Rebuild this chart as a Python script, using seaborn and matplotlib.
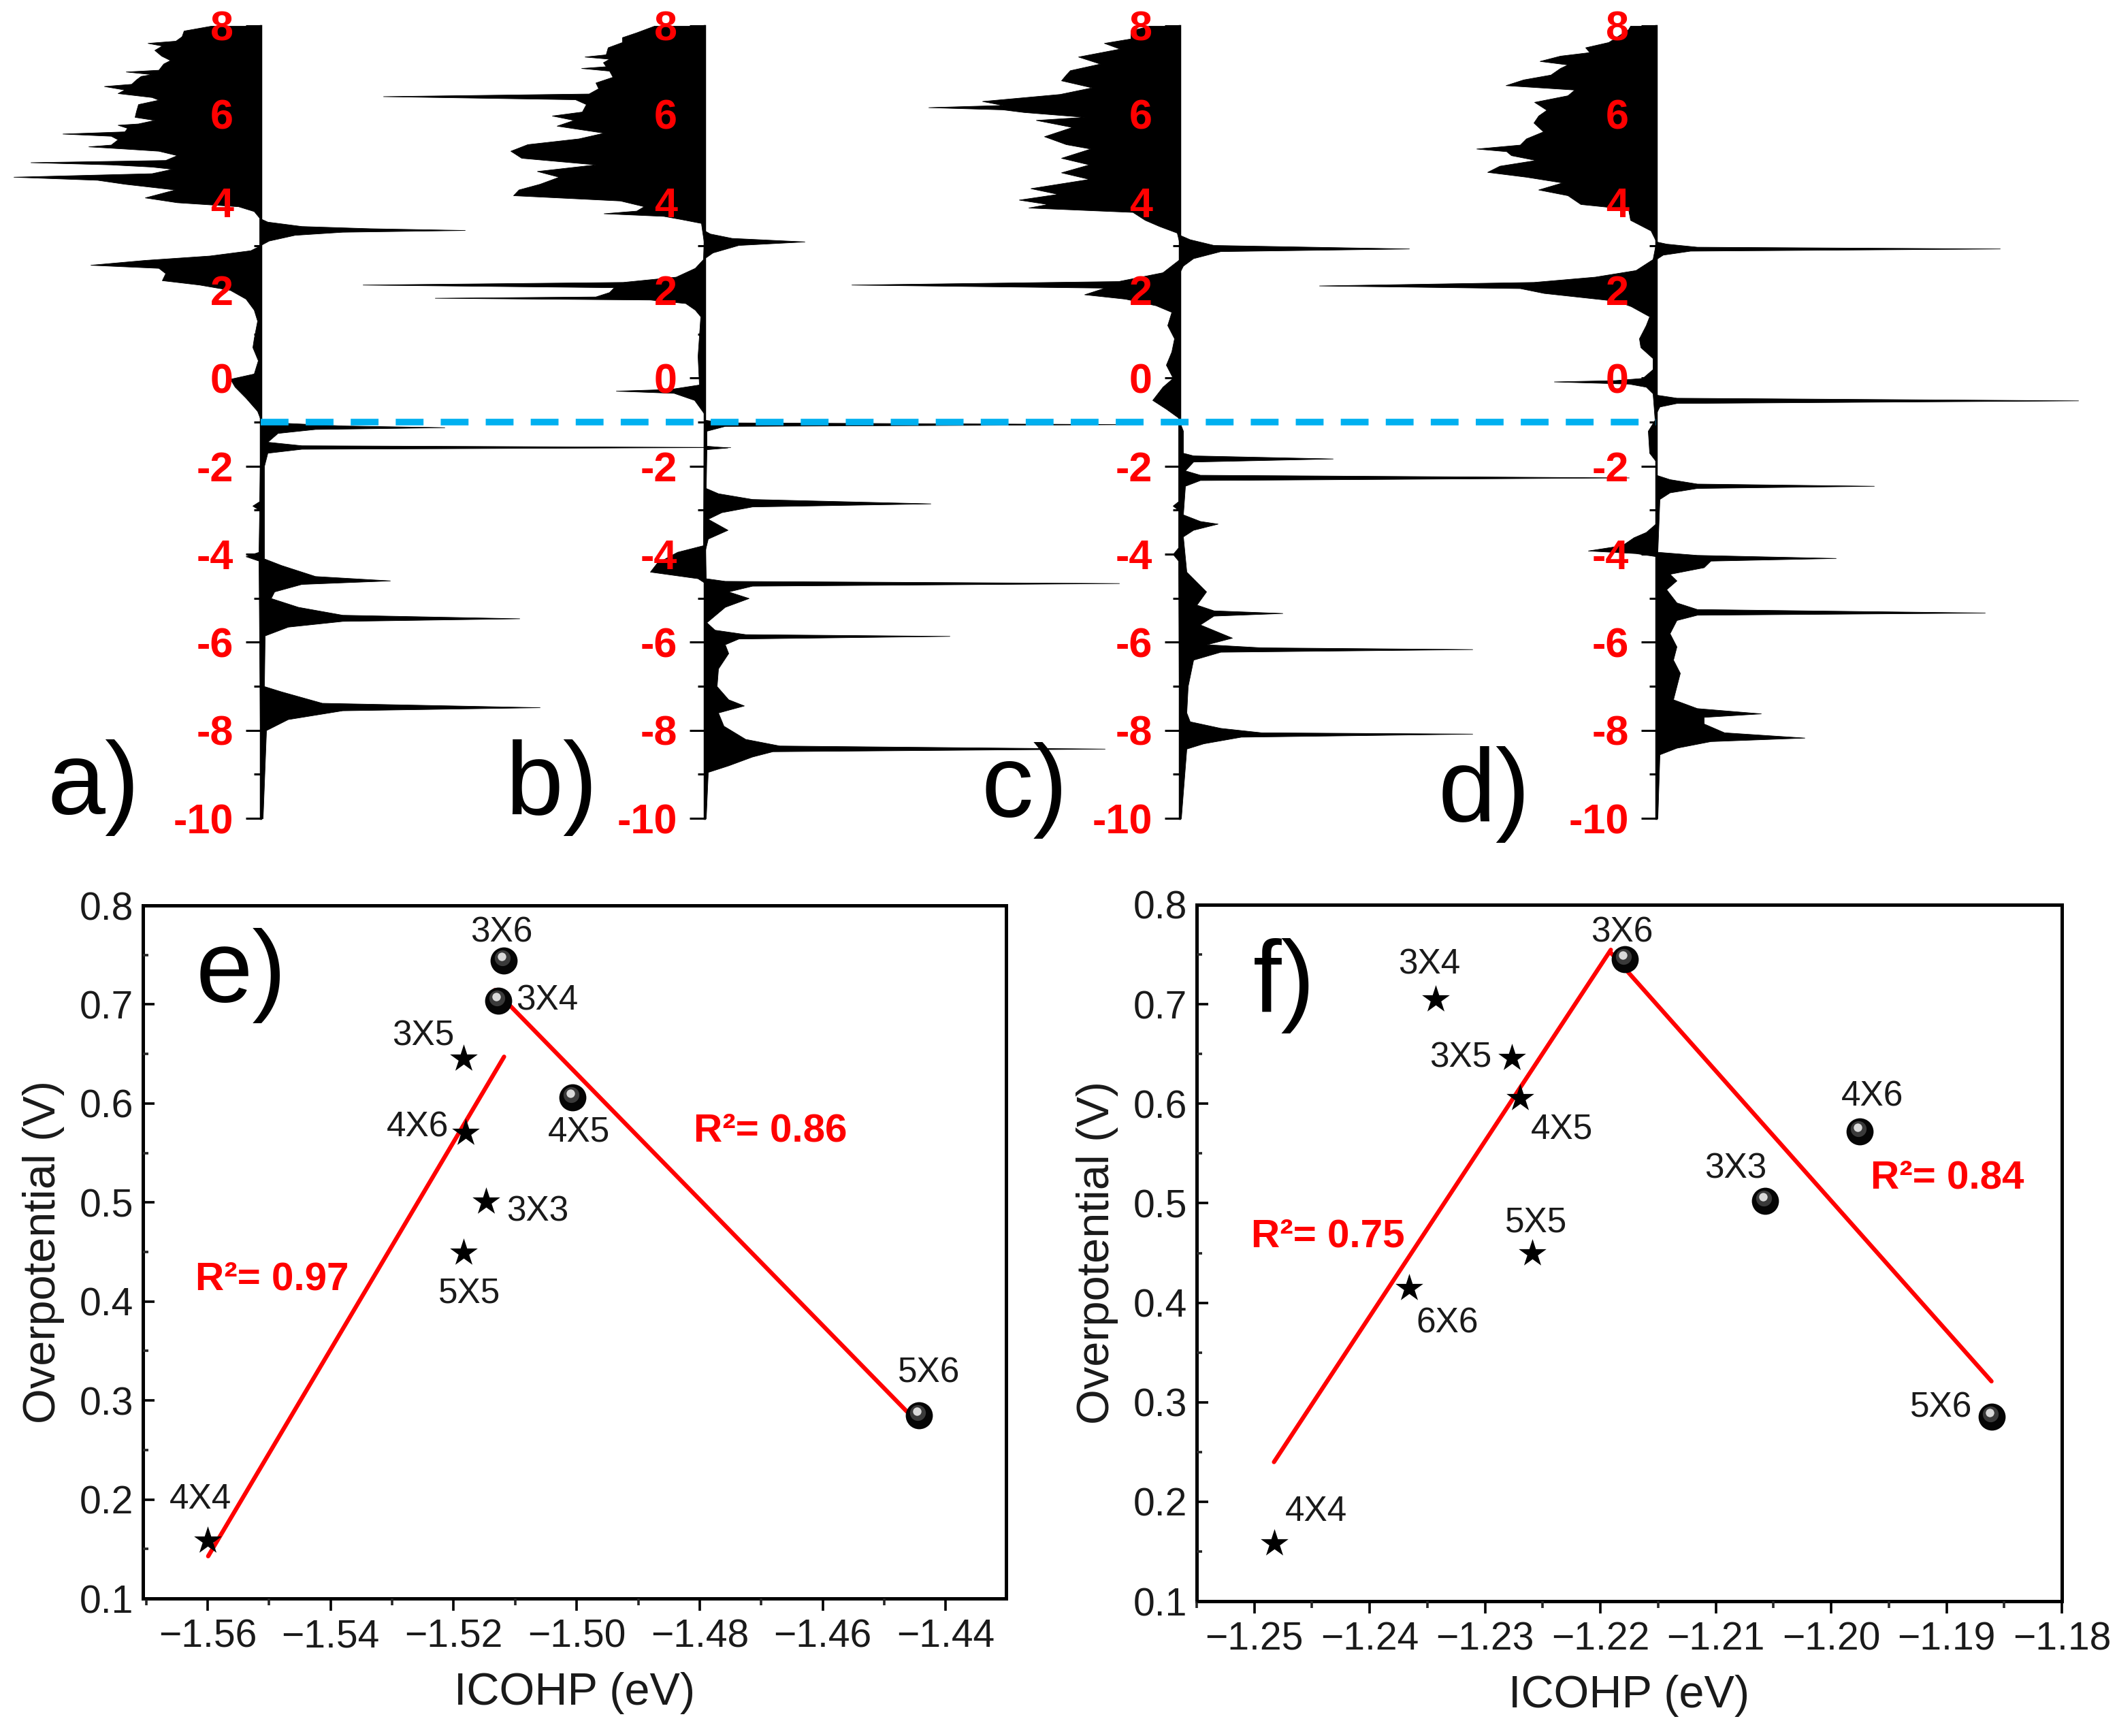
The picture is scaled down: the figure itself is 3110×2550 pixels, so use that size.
import numpy as np
import matplotlib
matplotlib.use("Agg")
import matplotlib.pyplot as plt
import matplotlib.transforms as mtransforms
from matplotlib.ticker import MultipleLocator, FuncFormatter
import seaborn as sns

# ------------------------------------------------------------------
# DOS data (energy in eV, DOS in arbitrary units), panels a-d
# each list holds (energy, dos) pairs
# ------------------------------------------------------------------
A_LEFT = [(8.00,0.73),(7.89,1.13),(7.76,1.16),(7.66,1.25),(7.61,1.66),(7.55,1.45),(7.45,1.56),(7.32,1.46),
          (7.22,1.33),(7.14,1.43),(7.00,1.50),(6.96,1.98),(6.90,1.60),(6.86,1.76),(6.78,1.83),(6.68,1.90),
          (6.63,2.30),(6.55,2.00),(6.47,2.10),(6.38,1.60),(6.32,1.50),(6.22,1.80),(6.06,1.83),(5.93,1.85),
          (5.86,1.56),(5.78,1.80),(5.75,2.10),(5.68,1.96),(5.60,2.00),(5.55,2.91),(5.50,2.20),(5.42,2.10),
          (5.30,2.20),(5.26,2.53),(5.21,2.00),(5.16,1.50),(5.06,1.23),(4.95,1.40),(4.90,3.38),(4.85,2.20),
          (4.80,1.60),(4.75,1.30),(4.65,1.60),(4.57,3.63),(4.50,2.40),(4.41,2.00),(4.28,1.26),(4.10,1.70),
          (3.99,1.23),(3.90,0.33),(3.79,0.10),(3.64,0.02),(3.00,0.02),(2.90,0.15),(2.78,0.75),(2.68,1.70),
          (2.57,2.50),(2.50,1.50),(2.38,1.40),(2.22,1.45),(2.12,0.90),(2.00,0.45),(1.80,0.22),(1.55,0.10),
          (1.30,0.05),(0.90,0.10),(0.70,0.12),(0.40,0.04),(0.10,0.10),(-0.02,0.45),(-0.20,0.38),(-0.45,0.22),
          (-0.75,0.05),(-0.95,0.00),(-2.80,0.02),(-2.90,0.12),(-3.00,0.02),(-3.95,0.03),(-4.05,0.22),
          (-4.15,0.03),(-10.0,0.0)]
A_RIGHT = [(8.0,0.0),(3.62,0.0),(3.55,0.10),(3.45,0.60),(3.40,1.60),(3.36,3.00),(3.32,1.20),(3.25,0.50),
           (3.12,0.12),(3.02,0.0),(-0.96,0.0),(-1.02,0.35),(-1.08,1.2),(-1.12,2.70),(-1.16,0.8),(-1.25,0.25),
           (-1.45,0.10),(-1.53,0.60),(-1.57,6.90),(-1.61,0.60),(-1.70,0.10),(-2.00,0.05),(-4.10,0.05),
           (-4.25,0.30),(-4.50,0.80),(-4.60,1.90),(-4.68,0.60),(-4.85,0.20),(-5.00,0.15),(-5.20,0.55),
           (-5.38,1.20),(-5.46,3.80),(-5.52,1.20),(-5.65,0.40),(-5.85,0.06),(-7.00,0.05),(-7.12,0.30),
           (-7.38,0.90),(-7.48,4.10),(-7.55,1.20),(-7.75,0.40),(-8.00,0.08),(-10.0,0.03)]

B_LEFT = [(8.00,0.74),(7.85,1.00),(7.74,1.21),(7.63,1.21),(7.51,1.42),(7.35,1.45),(7.30,1.76),(7.25,1.40),
          (7.17,1.49),(7.08,1.45),(7.04,1.81),(6.98,1.40),(6.84,1.35),(6.71,1.60),(6.58,1.56),(6.46,1.70),
          (6.40,4.72),(6.33,1.90),(6.22,1.74),(6.05,1.80),(5.96,2.24),(5.86,1.92),(5.73,2.17),(5.57,1.48),
          (5.44,1.85),(5.31,2.60),(5.16,2.85),(5.00,2.69),(4.85,1.60),(4.70,2.46),(4.57,2.14),(4.41,2.42),
          (4.28,2.73),(4.15,2.81),(4.03,1.24),(3.90,0.89),(3.80,1.00),(3.74,1.48),(3.68,0.60),(3.61,0.35),
          (3.52,0.05),(3.30,0.03),(3.10,0.01),(2.70,0.02),(2.50,0.14),(2.30,0.42),(2.18,1.20),(2.12,5.02),
          (2.06,1.33),(1.95,1.40),(1.85,1.60),(1.82,3.96),(1.78,0.80),(1.70,0.28),(1.55,0.14),(1.40,0.06),
          (0.50,0.10),(-0.15,0.08),(-0.25,0.50),(-0.29,1.30),(-0.34,0.45),(-0.50,0.15),(-0.80,0.01),
          (-3.80,0.02),(-3.95,0.40),(-4.20,0.70),(-4.40,0.80),(-4.55,0.10),(-4.65,0.0),(-10.0,0.0)]
B_RIGHT = [(8.0,0.0),(3.35,0.0),(3.28,0.08),(3.18,0.40),(3.10,1.47),(3.02,0.50),(2.85,0.12),(2.72,0.0),
           (-0.95,0.0),(-1.01,0.30),(-1.05,6.40),(-1.09,0.30),(-1.20,0.03),(-1.54,0.03),(-1.58,0.34),
           (-1.62,0.03),(-2.50,0.02),(-2.62,0.20),(-2.75,0.70),(-2.85,3.32),(-2.92,0.70),(-3.05,0.25),
           (-3.20,0.05),(-3.45,0.34),(-3.65,0.05),(-3.90,0.01),(-4.55,0.02),(-4.61,0.30),(-4.66,6.09),
           (-4.72,0.70),(-4.85,0.35),(-5.00,0.65),(-5.20,0.30),(-5.55,0.03),(-5.72,0.15),(-5.82,0.60),
           (-5.86,3.60),(-5.92,0.50),(-6.05,0.30),(-6.25,0.35),(-6.60,0.20),(-7.00,0.18),(-7.30,0.35),
           (-7.44,0.58),(-7.60,0.20),(-7.90,0.28),(-8.20,0.60),(-8.35,1.10),(-8.42,5.88),(-8.48,1.00),
           (-8.60,0.70),(-8.80,0.35),(-8.95,0.05),(-10.0,0.02)]

C_LEFT = [(8.00,0.45),(7.89,0.72),(7.71,0.72),(7.61,1.11),(7.48,0.88),(7.30,1.49),(7.14,1.17),(6.99,1.61),
          (6.89,1.67),(6.76,1.74),(6.60,1.29),(6.45,1.76),(6.29,2.90),(6.20,2.60),(6.15,3.69),(6.10,2.60),
          (6.04,2.29),(5.93,1.40),(5.86,2.11),(5.70,1.58),(5.49,1.99),(5.31,1.67),(5.21,1.31),(5.00,1.74),
          (4.85,1.33),(4.67,1.74),(4.52,1.33),(4.31,2.19),(4.18,1.79),(4.05,2.36),(3.95,1.94),(3.87,2.22),
          (3.77,0.69),(3.59,0.51),(3.45,0.30),(3.30,0.04),(3.05,0.0),(2.70,0.0),(2.40,0.25),(2.20,0.90),
          (2.12,4.82),(2.05,1.10),(1.90,1.40),(1.80,0.80),(1.65,0.35),(1.50,0.12),(1.20,0.18),(0.90,0.08),
          (0.60,0.12),(0.30,0.20),(0.00,0.10),(-0.20,0.25),(-0.50,0.40),(-0.70,0.20),(-0.90,0.02),
          (-2.80,0.02),(-2.90,0.10),(-3.00,0.02),(-3.85,0.02),(-4.00,0.10),(-4.15,0.02),(-10.0,0.0)]
C_RIGHT = [(8.0,0.0),(3.25,0.0),(3.15,0.15),(3.02,0.50),(2.94,3.37),(2.88,0.60),(2.72,0.20),(2.55,0.05),
           (2.40,0.0),(-1.00,0.0),(-1.20,0.05),(-1.70,0.05),(-1.76,0.20),(-1.83,2.25),(-1.90,0.20),
           (-2.10,0.08),(-2.20,0.30),(-2.26,6.60),(-2.32,0.30),(-2.45,0.08),(-3.10,0.05),(-3.25,0.30),
           (-3.31,0.56),(-3.45,0.20),(-3.60,0.05),(-4.40,0.10),(-4.85,0.39),(-5.15,0.25),(-5.28,0.50),
           (-5.34,1.51),(-5.40,0.50),(-5.60,0.30),(-5.90,0.77),(-6.05,0.40),(-6.12,1.20),(-6.16,4.30),
           (-6.22,0.60),(-6.40,0.20),(-7.00,0.12),(-7.60,0.10),(-7.80,0.15),(-7.95,0.60),(-8.05,1.20),
           (-8.08,4.30),(-8.15,0.90),(-8.30,0.35),(-8.42,0.10),(-10.0,0.02)]

D_LEFT = [(8.00,0.38),(7.92,0.41),(7.63,0.70),(7.51,1.04),(7.40,0.98),(7.32,1.41),(7.20,1.71),(7.12,1.30),
          (7.04,1.41),(6.89,1.55),(6.78,1.95),(6.65,2.21),(6.55,1.20),(6.42,1.30),(6.27,1.79),(6.09,1.61),
          (5.96,1.73),(5.80,1.80),(5.60,1.66),(5.44,1.91),(5.30,2.00),(5.21,2.64),(5.15,2.20),(5.06,2.13),
          (4.95,1.77),(4.82,2.30),(4.68,2.48),(4.57,1.91),(4.44,1.38),(4.28,1.73),(4.15,1.30),(3.95,1.11),
          (3.84,0.41),(3.59,0.38),(3.35,0.08),(3.10,0.0),(2.70,0.05),(2.45,0.30),(2.30,0.90),(2.18,1.80),
          (2.10,4.95),(2.04,2.00),(1.93,1.65),(1.75,0.58),(1.63,0.37),(1.40,0.10),(1.20,0.15),(0.90,0.25),
          (0.70,0.23),(0.45,0.05),(0.20,0.05),(0.00,0.20),(-0.05,0.60),(-0.08,1.50),(-0.13,0.40),
          (-0.20,0.15),(-0.35,0.05),(-0.95,0.02),(-1.20,0.12),(-1.70,0.10),(-1.90,0.0),(-3.30,0.0),
          (-3.50,0.15),(-3.62,0.33),(-3.80,0.50),(-3.92,1.00),(-3.98,0.30),(-4.05,0.0),(-10.0,0.0)]
D_RIGHT = [(8.0,0.0),(3.10,0.0),(3.05,0.15),(2.98,0.60),(2.94,5.05),(2.89,0.50),(2.80,0.10),(2.70,0.0),
           (-0.38,0.0),(-0.45,0.30),(-0.51,6.20),(-0.57,0.30),(-0.65,0.05),(-0.80,0.0),(-2.20,0.0),
           (-2.30,0.20),(-2.40,0.60),(-2.45,3.20),(-2.50,0.60),(-2.60,0.20),(-2.75,0.05),(-3.95,0.02),
           (-4.02,0.60),(-4.09,2.64),(-4.15,0.80),(-4.30,0.70),(-4.45,0.20),(-4.60,0.30),(-4.80,0.15),
           (-5.10,0.30),(-5.25,0.60),(-5.33,4.83),(-5.38,0.60),(-5.50,0.30),(-5.80,0.20),(-6.10,0.30),
           (-6.40,0.25),(-6.70,0.35),(-7.00,0.30),(-7.30,0.25),(-7.50,0.60),(-7.62,1.54),(-7.70,0.70),
           (-7.85,0.70),(-8.05,1.00),(-8.17,2.18),(-8.25,0.80),(-8.40,0.30),(-8.55,0.05),(-10.0,0.02)]

DOS_LABELS = ["a)", "b)", "c)", "d)"]
DOS_SIDES = [(A_LEFT, A_RIGHT), (B_LEFT, B_RIGHT), (C_LEFT, C_RIGHT), (D_LEFT, D_RIGHT)]
E_MARK = -1.0          # energy of the dashed reference line

# ------------------------------------------------------------------
# Overpotential vs ICOHP, panel e
# ------------------------------------------------------------------
E_BALL_X = [-1.5119, -1.5127, -1.5007, -1.4444]
E_BALL_Y = [0.744, 0.704, 0.606, 0.285]
E_BALL_LAB = ["3X6", "3X4", "4X5", "5X6"]
E_STAR_X = [-1.5184, -1.5180, -1.5147, -1.5184, -1.5600]
E_STAR_Y = [0.6455, 0.570, 0.5007, 0.449, 0.1586]
E_STAR_LAB = ["3X5", "4X6", "3X3", "5X5", "4X4"]
E_FIT1_X = [-1.5599, -1.5118]
E_FIT1_Y = [0.1427, 0.6472]
E_FIT2_X = [-1.5133, -1.4444]
E_FIT2_Y = [0.7145, 0.2766]
E_R2 = ["R\u00b2= 0.97", "R\u00b2= 0.86"]

# panel f
F_BALL_X = [-1.2179, -1.1975, -1.2057, -1.1861]
F_BALL_Y = [0.745, 0.572, 0.5024, 0.2853]
F_BALL_LAB = ["3X6", "4X6", "3X3", "5X6"]
F_STAR_X = [-1.2343, -1.2277, -1.2270, -1.2259, -1.2366, -1.2483]
F_STAR_Y = [0.705, 0.6458, 0.606, 0.450, 0.4145, 0.1583]
F_STAR_LAB = ["3X4", "3X5", "4X5", "5X5", "6X6", "4X4"]
F_FIT1_X = [-1.2483, -1.2191]
F_FIT1_Y = [0.2399, 0.7547]
F_FIT2_X = [-1.2191, -1.1861]
F_FIT2_Y = [0.7518, 0.3210]
F_R2 = ["R\u00b2= 0.75", "R\u00b2= 0.84"]

# ------------------------------------------------------------------
# layout / style (pixels of the 3110 x 2550 canvas)
# ------------------------------------------------------------------
W, H, DPI = 3110, 2550, 100
SCALE = 100.0                      # px per DOS unit
AXIS_PX = [383, 1035, 1733, 2433]  # x of energy axes
TOP_PX, BOT_PX = 38, 1202          # y of E=8 and E=-10
LABEL_PX = [(70, 1196), (742, 1196), (1442, 1200), (2113, 1206)]

E_OFF = {"3X6": (-3, 41), "3X4": (71, 0), "4X5": (10, -51), "5X6": (15, 62),
         "3X5": (-59, 33), "4X6": (-71, 8), "3X3": (75, -15), "5X5": (9, -60), "4X4": (-10, 60)}
F_OFF = {"3X6": (-4, 39), "4X6": (18, 51), "3X3": (-44, 47), "5X6": (-74, 13),
         "3X4": (-9, 51), "3X5": (-75, 0), "4X5": (62, -46), "5X5": (5, 44), "6X6": (56, -52),
         "4X4": (62, 46)}

sns.set_theme(style="ticks")
plt.rcParams["font.family"] = ["Liberation Sans", "DejaVu Sans"]
plt.rcParams["axes.unicode_minus"] = True

fig = plt.figure(figsize=(W / DPI, H / DPI), dpi=DPI)
fig.patch.set_facecolor("white")

top_axes = []
for i, (left, right) in enumerate(DOS_SIDES):
    ax = fig.add_axes([0, 1 - BOT_PX / H, 1, (BOT_PX - TOP_PX) / H])
    ax.patch.set_alpha(0)
    ax.set_axisbelow(False)
    x0 = AXIS_PX[i]
    ax.set_xlim(-x0 / SCALE, (W - x0) / SCALE)
    ax.set_ylim(-10, 8)
    el, dl = np.array(left).T
    er, dr = np.array(right).T
    ax.fill_betweenx(el, 0, -dl, color="black", lw=0.6, edgecolor="black", zorder=1)
    ax.fill_betweenx(er, 0, dr, color="black", lw=0.6, edgecolor="black", zorder=1)
    for s in ["top", "right", "bottom"]:
        ax.spines[s].set_visible(False)
    ax.spines["left"].set_position(("data", 0))
    ax.spines["left"].set_linewidth(2.5)
    ax.spines["left"].set_color("black")
    ax.xaxis.set_visible(False)
    ax.yaxis.set_major_locator(MultipleLocator(2))
    ax.yaxis.set_minor_locator(MultipleLocator(1))
    ax.yaxis.set_major_formatter(FuncFormatter(lambda v, p: f"{v:.0f}"))
    ax.tick_params(axis="y", which="major", direction="out", length=16, width=2.2,
                   labelsize=44, labelcolor="red", color="black", pad=13)
    ax.tick_params(axis="y", which="minor", direction="out", length=7, width=2.2, color="black")
    for t in ax.get_yticklabels():
        t.set_fontweight("bold")
    ax.grid(False)
    top_axes.append(ax)
    lx, ly = LABEL_PX[i]
    fig.text(lx / W, 1 - ly / H, DOS_LABELS[i], fontsize=110, ha="left", va="baseline", color="black")

# dashed blue reference line from first to last energy axis (drawn on top)
axd = top_axes[-1]
axd.plot([(AXIS_PX[0] - AXIS_PX[-1]) / SCALE, 0], [E_MARK, E_MARK], color="#00B0F0",
         lw=7, dashes=(4.2, 2.6), zorder=5, solid_capstyle="butt", dash_capstyle="butt")


def scatter_panel(ax, bx, by, blab, sx, sy, slab, f1x, f1y, f2x, f2y, r2, r2pos, offs):
    sns.lineplot(x=f1x, y=f1y, color="red", linewidth=4.5, ax=ax, sort=False, zorder=2)
    sns.lineplot(x=f2x, y=f2y, color="red", linewidth=4.5, ax=ax, sort=False, zorder=2)
    sns.scatterplot(x=sx, y=sy, marker="*", s=950, color="black", linewidth=0, ax=ax,
                    legend=False, zorder=3)
    sns.scatterplot(x=bx, y=by, marker="o", s=820, color="#050505", linewidth=0, ax=ax,
                    legend=False, zorder=3)
    mid = mtransforms.offset_copy(ax.transData, fig=fig, x=-2, y=4, units="dots")
    ax.scatter(bx, by, s=280, color="#3a3a3a", linewidths=0, transform=mid, zorder=4)
    hl = mtransforms.offset_copy(ax.transData, fig=fig, x=-3, y=6, units="dots")
    ax.scatter(bx, by, s=80, color="#d9d9d9", linewidths=0, transform=hl, zorder=5)
    for x, y, t in list(zip(bx, by, blab)) + list(zip(sx, sy, slab)):
        dx, dy = offs[t]
        ax.annotate(t, (x, y), xytext=(dx, dy), textcoords="offset pixels", ha="center",
                    va="center", fontsize=37, color="#1a1a1a", zorder=6)
    for txt, (tx, ty) in zip(r2, r2pos):
        ax.text(tx, ty, txt, color="red", fontsize=42, fontweight="bold", ha="left", va="center")


def style_box(ax, xlim, xmaj, xmin, panel, ppos):
    ax.set_xlim(*xlim)
    ax.set_ylim(0.1, 0.8)
    ax.set_axisbelow(False)
    ax.xaxis.set_major_locator(MultipleLocator(xmaj))
    ax.xaxis.set_minor_locator(MultipleLocator(xmin))
    ax.yaxis.set_major_locator(MultipleLocator(0.1))
    ax.yaxis.set_minor_locator(MultipleLocator(0.05))
    ax.xaxis.set_major_formatter(FuncFormatter(lambda v, p: f"{v:.2f}".replace("-", "\u2212")))
    ax.yaxis.set_major_formatter(FuncFormatter(lambda v, p: f"{v:.1f}"))
    for s in ax.spines.values():
        s.set_linewidth(3.6)
        s.set_color("black")
    ax.tick_params(axis="x", which="major", direction="out", length=13, width=2.6, labelsize=41,
                   pad=8, colors="black", labelcolor="#1a1a1a")
    ax.tick_params(axis="x", which="minor", direction="out", length=7, width=2.6)
    ax.tick_params(axis="y", which="major", direction="in", length=12, width=2.6, labelsize=41,
                   pad=10, colors="black", labelcolor="#1a1a1a")
    ax.tick_params(axis="y", which="minor", direction="in", length=6, width=2.6)
    ax.set_xlabel("ICOHP (eV)", fontsize=48, color="#1a1a1a", labelpad=18)
    ax.set_ylabel("Overpotential (V)", fontsize=48, color="#1a1a1a", labelpad=16)
    ax.grid(False)
    ax.text(ppos[0], ppos[1], panel, transform=ax.transAxes, fontsize=108, ha="left",
            va="baseline", color="black")


axE = fig.add_axes([210 / W, 1 - 2348 / H, (1478 - 210) / W, (2348 - 1330) / H])
scatter_panel(axE, E_BALL_X, E_BALL_Y, E_BALL_LAB, E_STAR_X, E_STAR_Y, E_STAR_LAB,
              E_FIT1_X, E_FIT1_Y, E_FIT2_X, E_FIT2_Y, E_R2,
              [(-1.562, 0.422), (-1.481, 0.572)], E_OFF)
style_box(axE, (-1.5705, -1.4302), 0.02, 0.01, "e)", (0.061, 0.861))

axF = fig.add_axes([1758 / W, 1 - 2352 / H, (3029 - 1758) / W, (2352 - 1329) / H])
scatter_panel(axF, F_BALL_X, F_BALL_Y, F_BALL_LAB, F_STAR_X, F_STAR_Y, F_STAR_LAB,
              F_FIT1_X, F_FIT1_Y, F_FIT2_X, F_FIT2_Y, F_R2,
              [(-1.2503, 0.4667), (-1.1966, 0.525)], F_OFF)
style_box(axF, (-1.255, -1.18), 0.01, 0.005, "f)", (0.065, 0.846))

fig.savefig("out.png", dpi=DPI, facecolor="white")
